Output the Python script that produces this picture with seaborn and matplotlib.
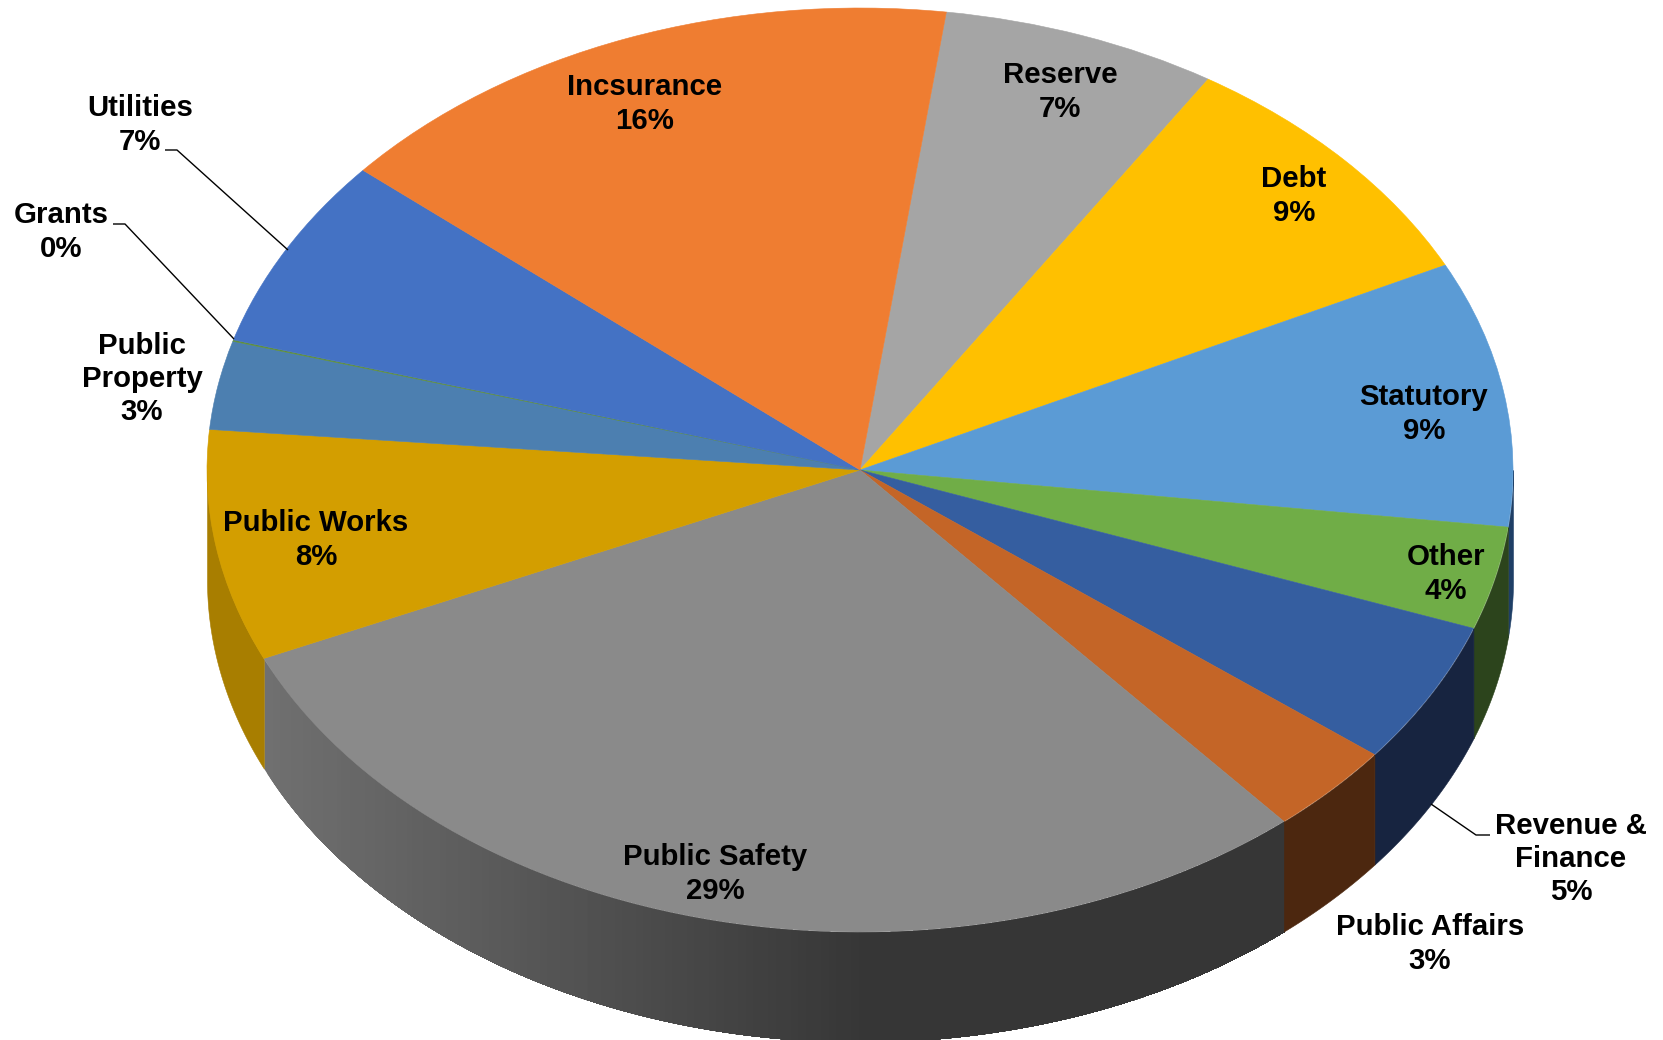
import numpy as np
import matplotlib
matplotlib.use("Agg")
import matplotlib.pyplot as plt
import seaborn as sns

# --- values, clockwise from Reserve ---
categories = ["Reserve", "Debt", "Statutory", "Other", "Revenue &\nFinance", "Public Affairs",
              "Public Safety", "Public Works", "Public\nProperty", "Grants", "Utilities", "Incsurance"]
shares = [6.85, 8.75, 9.3, 3.6, 5.0, 3.2, 29.6, 8.1, 3.1, 0.05, 6.7, 15.9]
percent_labels = ["7%", "9%", "9%", "4%", "5%", "3%", "29%", "8%", "3%", "0%", "7%", "16%"]

top_colors = ["#A5A5A5", "#FFC000", "#5B9BD5", "#70AD47", "#355EA0", "#C46527",
              "#8A8A8A", "#D39E00", "#4C7FB0", "#5F8F3A", "#4472C4", "#EF7D31"]
wall_colors = ["#525252", "#7F6000", "#1F3F66", "#2C441C", "#172440", "#4C270F",
               "#363636", "#A87E00", "#264060", "#2C441C", "#223962", "#77401A"]

# label centres and leader lines in picture pixels
label_pos = [(1060, 92), (1294, 196), (1424, 414), (1446, 574), (1571, 859), (1430, 944),
             (715, 874), (316, 540), (142, 379), (61, 232), (140, 125), (645, 104)]
leaders = [[(165, 150), (177, 150), (288, 250)],
           [(113, 224), (125, 224), (234, 339)],
           [(1490, 835), (1476, 835), (1431, 804)]]

W, H = 1663, 1040
CX, CY = 860, 470      # centre of the top face
RX, RY = 653, 462      # radii of the ellipse
DEPTH = 110 / RY       # height of the side wall, in axis units
START = 82.4


def to_fig(x, y):
    return x / W, 1 - y / H


sns.set_theme(style="white")
plt.rcParams["font.family"] = ["Liberation Sans", "DejaVu Sans"]

fig = plt.figure(figsize=(W / 100, H / 100), dpi=100)
ax = fig.add_axes([0, 0, 1, 1])

# top face, the ellipse comes from the non equal axis scales below
wedges, _ = ax.pie(shares, colors=sns.color_palette(top_colors), startangle=START, counterclock=False,
                   radius=1, center=(0, 0), normalize=True)
for w in wedges:
    w.set_edgecolor(w.get_facecolor())
    w.set_linewidth(0.4)
ax.set_aspect("auto")
ax.set_xlim(-CX / RX, (W - CX) / RX)
ax.set_ylim(-(H - CY) / RY, CY / RY)

# side wall, only the front half of the rim shows
edges = START - np.cumsum([0] + shares) * 360 / sum(shares)
shade = sns.blend_palette(["#707070", "#363636"], 100)
for i, name in enumerate(categories):
    lo, hi = max(edges[i + 1], -180), min(edges[i], 0)
    if lo >= hi:
        continue
    theta = np.radians(np.linspace(lo, hi, 161))
    if name == "Public Safety":
        # paint left to right, each pass covers the rest of the wall so no seams show
        for j in range(len(theta) - 1):
            t = theta[j:]
            pos = (np.cos(t[0]) + 0.92) / 0.92
            c = shade[int(np.clip(pos, 0, 1) * 99)]
            ax.fill_between(np.cos(t), np.sin(t), np.sin(t) - DEPTH, color=c, linewidth=0, zorder=0)
    else:
        ax.fill_between(np.cos(theta), np.sin(theta), np.sin(theta) - DEPTH,
                        color=wall_colors[i], linewidth=0.4, zorder=0.5)

for name, pct, (x, y) in zip(categories, percent_labels, label_pos):
    fx, fy = to_fig(x, y)
    ax.text(fx, fy, name + "\n" + pct, transform=fig.transFigure, ha="center", va="center",
            fontsize=21.2, fontweight="bold", color="black", linespacing=1.24)

for line in leaders:
    xs, ys = zip(*[to_fig(*p) for p in line])
    ax.plot(xs, ys, transform=fig.transFigure, color="black", linewidth=1, solid_capstyle="butt")

fig.savefig("out.png", dpi=100, facecolor="white")
